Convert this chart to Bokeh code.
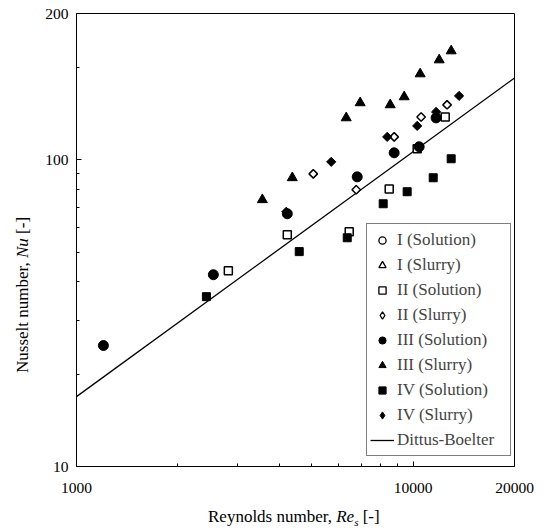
import math
from bokeh.plotting import figure
from bokeh.models import FixedTicker, Legend, LegendItem, Div
from bokeh.layouts import row, column
from bokeh.embed import file_html
from bokeh.resources import INLINE

FONT = "Liberation Serif"

# ---- data ----
re_I_sol = []
nu_I_sol = []
re_I_slu = []
nu_I_slu = []
re_II_sol = [2825, 4228, 6458, 8489, 10280, 12450]
nu_II_sol = [43.5, 57.0, 58.3, 80.4, 108.6, 138.0]
re_II_slu = [5050, 6775, 8782, 10560, 12610]
nu_II_slu = [90.0, 79.9, 118.8, 138.0, 151.1]
re_III_sol = [1202, 2550, 4228, 6821, 8782, 10420, 11700]
nu_III_sol = [24.8, 42.2, 66.7, 88.0, 105.4, 110.3, 137.0]
re_III_slu = [3565, 4375, 6327, 6960, 8548, 9404, 10490, 11950, 12970]
nu_III_slu = [74.1, 87.4, 137.0, 153.4, 151.1, 160.4, 190.6, 211.7, 226.5]
re_IV_sol = [2431, 4588, 6371, 8147, 9598, 11470, 12970]
nu_IV_sol = [35.8, 50.2, 55.7, 71.9, 78.7, 87.4, 100.8]
re_IV_slu = [4199, 5710, 8373, 10280, 11700, 13690]
nu_IV_slu = [67.7, 98.5, 118.8, 129.0, 143.3, 161.6]
re_db = [1000, 20000]
nu_db = [16.9, 184.9]

x_ticks = [1000, 10000, 20000]
x_minor = [2000, 3000, 4000, 5000, 6000, 7000, 8000, 9000]
x_labels = {1000: "1000", 10000: "10000", 20000: "20000"}
y_ticks = [10, 100, 300]
y_minor = [20, 30, 40, 50, 60, 70, 80, 90, 200]
y_labels = {10: "10", 100: "100", 300: "200"}

X0, X1 = 1000, 20000
Y0, Y1 = 10, 300
YDIV_W = 36
BL, BR, BT, BB = 40, 22, 13, 34
FW, FH = 438, 453
W, H = BL + FW + BR, BT + FH + BB

p = figure(width=W, height=H, x_axis_type="log", y_axis_type="log",
           x_range=(X0, X1), y_range=(Y0, Y1),
           output_backend="svg", toolbar_location=None,
           min_border_left=BL, min_border_right=BR, min_border_top=BT, min_border_bottom=BB)
p.grid.visible = False
p.outline_line_color = "black"
p.outline_line_width = 1
p.outline_line_alpha = 1
p.background_fill_color = "white"
p.border_fill_color = "white"

for ax in (p.xaxis[0], p.yaxis[0]):
    ax.axis_line_color = "black"
    ax.axis_line_width = 1
    ax.major_tick_line_color = "black"
    ax.minor_tick_line_color = "black"
    ax.major_tick_in = 5
    ax.major_tick_out = 0
    ax.minor_tick_in = 3
    ax.minor_tick_out = 0
    ax.major_label_text_font = FONT
    ax.major_label_text_font_size = "15.5px"
    ax.major_label_text_color = "black"

p.xaxis.ticker = FixedTicker(ticks=x_ticks, minor_ticks=x_minor)
p.xaxis.major_label_overrides = x_labels
p.xaxis.major_label_standoff = 16
p.yaxis.ticker = FixedTicker(ticks=y_ticks, minor_ticks=y_minor)
p.yaxis.major_label_overrides = y_labels
p.yaxis.major_label_standoff = 8

# Dittus-Boelter line
r_db = p.line(re_db, nu_db, line_color="black", line_width=1.3)

def sc(xs, ys, marker, size, filled, angle=0.0):
    return p.scatter(xs, ys, marker=marker, size=size, angle=angle,
                     fill_color="black" if filled else "white",
                     line_color="black", line_width=1.0 if filled else 1.5)

sc(re_I_sol, nu_I_sol, "circle", 9, False)
sc(re_I_slu, nu_I_slu, "triangle", 9, False)
sc(re_II_sol, nu_II_sol, "square", 8, False)
sc(re_II_slu, nu_II_slu, "square", 6, False, math.pi / 4)
sc(re_IV_sol, nu_IV_sol, "square", 8, True)
sc(re_III_slu, nu_III_slu, "triangle", 10, True)
sc(re_IV_slu, nu_IV_slu, "square", 6.5, True, math.pi / 4)
sc(re_III_sol, nu_III_sol, "circle", 10, True)

# legend-only renderers (no visible points)
NAN = float("nan")
def dummy(marker, filled):
    return p.scatter([NAN], [NAN], marker=marker, size=7,
                     fill_color="black" if filled else "white",
                     line_color="black", line_width=1.0 if filled else 1.3)

items = [
    LegendItem(label="I (Solution)", renderers=[dummy("circle", False)]),
    LegendItem(label="I (Slurry)", renderers=[dummy("triangle", False)]),
    LegendItem(label="II (Solution)", renderers=[dummy("square", False)]),
    LegendItem(label="II (Slurry)", renderers=[dummy("diamond", False)]),
    LegendItem(label="III (Solution)", renderers=[dummy("circle", True)]),
    LegendItem(label="III (Slurry)", renderers=[dummy("triangle", True)]),
    LegendItem(label="IV (Solution)", renderers=[dummy("square", True)]),
    LegendItem(label="IV (Slurry)", renderers=[dummy("diamond", True)]),
    LegendItem(label="Dittus-Boelter", renderers=[r_db]),
]
legend = Legend(items=items, location=(290, 10),
                label_text_font=FONT, label_text_font_size="17px",
                label_height=25, glyph_height=18, glyph_width=24,
                label_standoff=3, label_width=110, padding=3, spacing=0, margin=0,
                border_line_color="black", border_line_width=1,
                background_fill_color="white", background_fill_alpha=1)
p.add_layout(legend)

# axis titles as HTML text (plain + italic + subscript)
TXT = "font-family:'Liberation Serif';font-size:17px;color:#000;white-space:nowrap;"
ylab_html = (
    f'<div style="position:relative;width:{YDIV_W}px;height:{H}px;">'
    f'<div style="position:absolute;left:14px;top:373px;transform:rotate(-90deg);'
    f'transform-origin:0 0;line-height:17px;{TXT}">'
    'Nusselt number, <i>Nu</i> [-]</div></div>'
)
ydiv = Div(text=ylab_html, width=YDIV_W, height=H, margin=0)

xlab_html = (
    f'<div style="padding-left:208px;padding-top:11px;line-height:12px;{TXT}">'
    'Reynolds number, <i>Re</i>'
    '<sub style="font-size:11px;line-height:0;vertical-align:-4px;"><i>s</i></sub> [-]</div>'
)
xdiv = Div(text=xlab_html, width=YDIV_W + W, height=30, margin=0)

layout = column(row(ydiv, p), xdiv)
open("out.html", "w").write(file_html(layout, INLINE))
